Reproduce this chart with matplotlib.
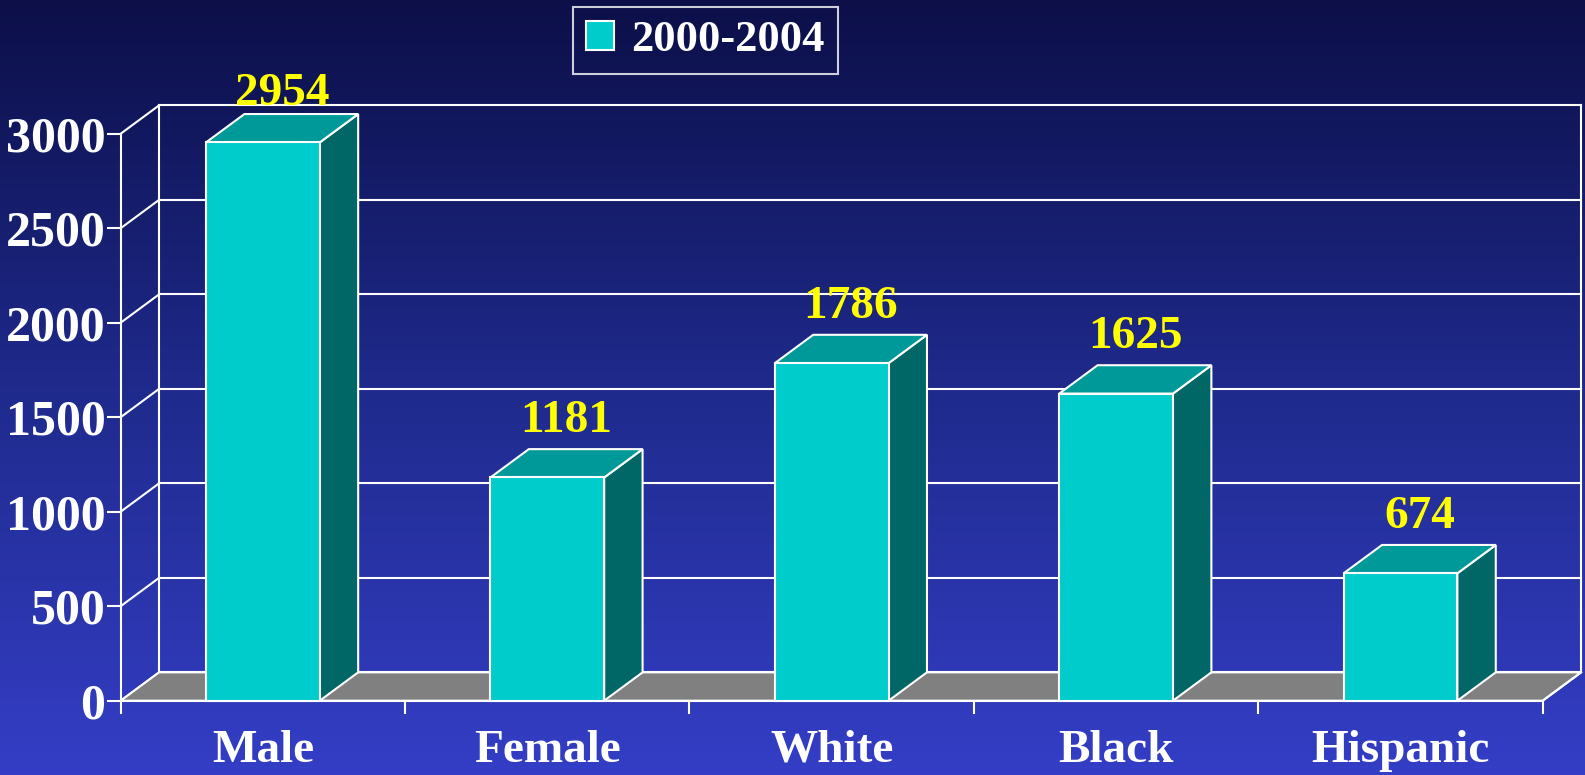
import numpy as np
import matplotlib
matplotlib.use("Agg")
import matplotlib.pyplot as plt
from matplotlib.patches import Polygon, Rectangle, Patch
from matplotlib.colors import LinearSegmentedColormap

plt.rcParams['font.family'] = ['Liberation Serif', 'DejaVu Serif']
plt.rcParams['font.weight'] = 'bold'

# data
categories = ['Male', 'Female', 'White', 'Black', 'Hispanic']
counts = [2954, 1181, 1786, 1625, 674]
series_name = '2000-2004'
yticks = [0, 500, 1000, 1500, 2000, 2500, 3000]

# colours
front_c = '#00cccc'
top_c = '#009999'
side_c = '#006666'
floor_c = '#808080'

# depth of the fake 3d box, in data units
dx = 0.135
dy = 150
bw = 0.4

fig = plt.figure(figsize=(15.85, 7.75), dpi=100)

# gradient background
bg = fig.add_axes([0, 0, 1, 1], zorder=-10)
cmap = LinearSegmentedColormap.from_list('bg', ['#0c0f48', '#1f2a8c', '#343ec6'])
grad = np.linspace(0, 1, 256).reshape(-1, 1)
bg.imshow(grad, aspect='auto', cmap=cmap, extent=[0, 1, 0, 1], origin='upper')
bg.axis('off')

ax = fig.add_axes([0.07615, 0.09587, 0.89716, 0.73161])
ax.set_facecolor('none')
ax.set_xlim(0, len(categories))
ax.set_ylim(0, 3000)
n = len(categories)

# floor
floor = Polygon([(0, 0), (n, 0), (n + dx, dy), (dx, dy)], closed=True,
                facecolor=floor_c, edgecolor='white', lw=1.5, zorder=1, clip_on=False)
ax.add_patch(floor)

# walls: grid on back wall and diagonals on left wall
for t in yticks:
    ax.plot([dx, n + dx], [t + dy, t + dy], color='white', lw=1.5, zorder=0.5, clip_on=False)
    ax.plot([0, dx], [t, t + dy], color='white', lw=1.5, zorder=0.5, clip_on=False)
ax.plot([dx, dx], [dy, 3000 + dy], color='white', lw=1.5, zorder=0.5, clip_on=False)
ax.plot([n + dx, n + dx], [dy, 3000 + dy], color='white', lw=1.5, zorder=0.5, clip_on=False)
ax.plot([n, n + dx], [0, dy], color='white', lw=1.5, zorder=1.5, clip_on=False)

# bars
for i, v in enumerate(counts):
    x0 = i + 0.5 - bw / 2
    x1 = x0 + bw
    ax.add_patch(Polygon([(x1, 0), (x1 + dx, dy), (x1 + dx, v + dy), (x1, v)], closed=True,
                         facecolor=side_c, edgecolor='white', lw=1.5, zorder=3, clip_on=False))
    ax.add_patch(Polygon([(x0, v), (x1, v), (x1 + dx, v + dy), (x0 + dx, v + dy)], closed=True,
                         facecolor=top_c, edgecolor='white', lw=1.5, zorder=3, clip_on=False))
    ax.add_patch(Rectangle((x0, 0), bw, v, facecolor=front_c, edgecolor='white',
                           lw=1.5, zorder=4, clip_on=False))
    # label sits above the bar, but not above the top of the back wall
    ly = min(v + dy + 90, 3000 + dy)
    ax.text(i + 0.5 + dx / 2, ly, str(v), color='#ffff00', fontsize=34,
            fontweight='bold', ha='center', va='baseline', zorder=5, clip_on=False)

# axes
for s in ['top', 'right']:
    ax.spines[s].set_visible(False)
for s in ['left', 'bottom']:
    ax.spines[s].set_color('white')
    ax.spines[s].set_linewidth(1.5)
    ax.spines[s].set_zorder(2)
ax.set_yticks(yticks)
ax.set_yticklabels([str(t) for t in yticks])
ax.set_xticks(np.arange(n + 1))
ax.set_xticklabels([''] * (n + 1))
ax.set_xticks(np.arange(n) + 0.5, minor=True)
ax.set_xticklabels(categories, minor=True)
ax.tick_params(axis='y', colors='white', length=10, width=1.5, labelsize=36, pad=1)
ax.tick_params(axis='x', which='major', colors='white', length=9, width=1.5)
ax.tick_params(axis='x', which='minor', colors='white', length=0, labelsize=34, pad=21)

# legend
leg = ax.legend(handles=[Patch(facecolor=front_c, edgecolor='white', lw=1.5, label=series_name)],
                loc='center', bbox_to_anchor=(0.4451, 0.948), bbox_transform=fig.transFigure,
                fontsize=32, frameon=True, fancybox=False, handlelength=0.62, handleheight=0.62,
                handletextpad=0.4, borderpad=0.3)
leg.get_frame().set_facecolor('none')
leg.get_frame().set_edgecolor('white')
leg.get_frame().set_linewidth(1.5)
for t in leg.get_texts():
    t.set_color('white')

fig.savefig('out.png', dpi=100)
